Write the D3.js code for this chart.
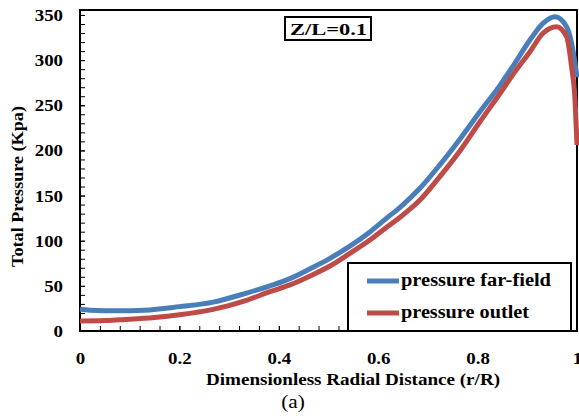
<!DOCTYPE html>
<html>
<head>
<meta charset="utf-8">
<script src="https://cdn.jsdelivr.net/npm/d3@7"></script>
<style>
  body { margin: 0; background: #fff; }
  svg text { font-family: "Liberation Serif", "Times New Roman", serif; }
</style>
</head>
<body>
<svg id="chart"></svg>
<script>
// pressure far-field curve
const rFar = [0, 0.02, 0.05, 0.1, 0.13, 0.2, 0.268, 0.335, 0.382, 0.4225, 0.463, 0.503, 0.543, 0.584, 0.617, 0.644, 0.684, 0.724, 0.765, 0.805, 0.845, 0.872, 0.905, 0.932, 0.956, 0.979, 0.989, 0.995, 1.0];
const pFar = [24, 23, 22.5, 22.5, 23, 27, 32, 42, 50, 58, 69, 80.5, 94, 110, 125, 137, 158, 184, 213, 243, 272, 294, 322, 341, 348, 337, 319, 300, 281];

// pressure outlet curve
const rOut = [0, 0.05, 0.1, 0.15, 0.2, 0.268, 0.335, 0.382, 0.4225, 0.463, 0.503, 0.543, 0.584, 0.617, 0.644, 0.684, 0.724, 0.765, 0.805, 0.845, 0.875, 0.905, 0.932, 0.959, 0.979, 0.989, 0.996, 1.0];
const pOut = [11, 11.5, 13, 15, 18, 24, 34, 43.5, 51, 61, 72, 86, 101, 115, 126, 145, 171, 200, 232, 263, 287, 309, 330, 337, 326, 293, 256, 206];

const xTicks = [0, 0.2, 0.4, 0.6, 0.8, 1];
const yTicks = [0, 50, 100, 150, 200, 250, 300, 350];
const seriesNames = ["pressure far-field", "pressure outlet"];
const colors = ["#4a7ebb", "#be4b48"];

const W = 579, H = 419;
const margin = { top: 10, right: 2, bottom: 88, left: 80 };
const sx = 1.18; // glyphs in the picture are stretched horizontally

const svg = d3.select("#chart").attr("width", W).attr("height", H);

const x = d3.scaleLinear().domain([0, 1]).range([margin.left, W - margin.right]);
const y = d3.scaleLinear().domain([0, 355.5]).range([H - margin.bottom, margin.top]);
const x0 = margin.left, y0 = H - margin.bottom;

// minor ticks
svg.append("g")
  .attr("transform", `translate(0,${y0})`)
  .call(d3.axisBottom(x).tickValues(d3.range(0, 1.001, 0.04)).tickSizeInner(-5).tickSizeOuter(0).tickFormat(""))
  .call(g => g.select(".domain").remove());
svg.append("g")
  .attr("transform", `translate(${x0},0)`)
  .call(d3.axisLeft(y).tickValues(d3.range(0, 351, 10)).tickSizeInner(-5).tickSizeOuter(0).tickFormat(""))
  .call(g => g.select(".domain").remove());

// major ticks + labels
svg.append("g")
  .attr("transform", `translate(0,${y0})`)
  .call(d3.axisBottom(x).tickValues(xTicks).tickSizeInner(-5).tickSizeOuter(0).tickFormat(d => String(d)))
  .call(g => g.select(".domain").remove())
  .call(g => g.selectAll("text")
    .attr("y", 33).attr("dy", 0)
    .attr("transform", `scale(${sx},1)`)
    .attr("font-size", 16).attr("font-weight", "bold")
    .attr("font-family", "Liberation Serif, serif").attr("fill", "#000"));

svg.append("g")
  .attr("transform", `translate(${x0},0)`)
  .call(d3.axisLeft(y).tickValues(yTicks).tickSizeInner(-5).tickSizeOuter(0))
  .call(g => g.select(".domain").remove())
  .call(g => g.selectAll("text")
    .attr("x", -17 / sx).attr("dy", "0.34em")
    .attr("transform", `scale(${sx},1)`)
    .attr("font-size", 16).attr("font-weight", "bold")
    .attr("font-family", "Liberation Serif, serif").attr("fill", "#000"));

svg.selectAll(".tick line").attr("stroke", "#000").attr("stroke-width", 1);

// frame
svg.append("rect")
  .attr("x", x0).attr("y", margin.top)
  .attr("width", x.range()[1] - x0).attr("height", y0 - margin.top)
  .attr("fill", "none").attr("stroke", "#000").attr("stroke-width", 2);

// curves
const line = d3.line()
  .x(d => x(d[0]))
  .y(d => y(d[1]))
  .curve(d3.curveMonotoneX);

const series = [
  rFar.map((r, i) => [r, pFar[i]]),
  rOut.map((r, i) => [r, pOut[i]])
];

svg.selectAll(".curve")
  .data(series)
  .enter()
  .append("path")
  .attr("class", "curve")
  .attr("d", line)
  .attr("fill", "none")
  .attr("stroke", (d, i) => colors[i])
  .attr("stroke-width", 5)
  .attr("stroke-linejoin", "round");

// Z/L label
svg.append("rect")
  .attr("x", 285).attr("y", 17).attr("width", 86).attr("height", 23)
  .attr("fill", "#fff").attr("stroke", "#000").attr("stroke-width", 2);
svg.append("text")
  .attr("x", 290).attr("y", 35)
  .attr("font-size", 17).attr("font-weight", "bold")
  .attr("textLength", 77).attr("lengthAdjust", "spacingAndGlyphs")
  .text("Z/L=0.1");

// legend
const legend = svg.append("g");
legend.append("rect")
  .attr("x", 348).attr("y", 263).attr("width", 223).attr("height", 68)
  .attr("fill", "#fff").attr("stroke", "#000").attr("stroke-width", 2);
const legendRows = legend.selectAll(".row")
  .data(seriesNames)
  .enter()
  .append("g")
  .attr("transform", (d, i) => `translate(0,${281 + i * 32})`);
legendRows.append("line")
  .attr("x1", 367).attr("x2", 399)
  .attr("stroke", (d, i) => colors[i]).attr("stroke-width", 5);
legendRows.append("text")
  .attr("x", 401).attr("y", 5)
  .attr("font-size", 18).attr("font-weight", "bold")
  .attr("textLength", (d, i) => i === 0 ? 150 : 128)
  .attr("lengthAdjust", "spacingAndGlyphs")
  .text(d => d);

// axis titles
svg.append("text")
  .attr("x", 206).attr("y", 385)
  .attr("font-size", 16).attr("font-weight", "bold")
  .attr("textLength", 294).attr("lengthAdjust", "spacingAndGlyphs")
  .text("Dimensionless Radial Distance (r/R)");

svg.append("text")
  .attr("transform", "translate(23,267) rotate(-90)")
  .attr("font-size", 17).attr("font-weight", "bold")
  .attr("textLength", 161).attr("lengthAdjust", "spacingAndGlyphs")
  .text("Total Pressure (Kpa)");

svg.append("text")
  .attr("x", 293).attr("y", 408)
  .attr("text-anchor", "middle")
  .attr("transform", `translate(${293 - 293 * sx},0) scale(${sx},1)`)
  .attr("font-size", 18)
  .text("(a)");
</script>
</body>
</html>
